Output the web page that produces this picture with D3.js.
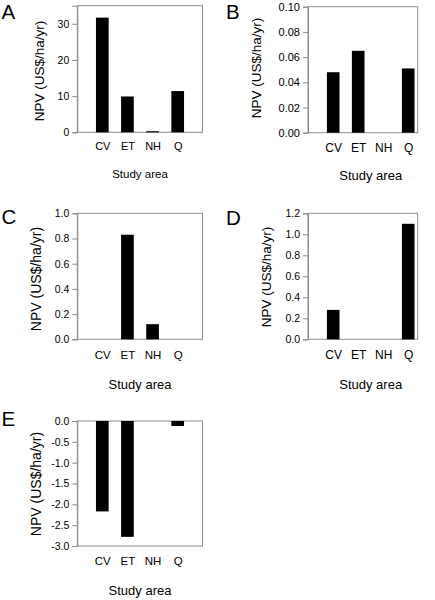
<!DOCTYPE html>
<html>
<head>
<meta charset="utf-8">
<script src="https://cdn.jsdelivr.net/npm/d3@7"></script>
<style>
  html, body { margin: 0; padding: 0; background: #fff; }
  svg { display: block; font-family: "Liberation Sans", Arial, sans-serif; }
</style>
</head>
<body>
<svg id="chart" width="435" height="600"></svg>
<script>
// ---------------- data ----------------
const categories = ["CV", "ET", "NH", "Q"];
const panelLetters = ["A", "B", "C", "D", "E"];
const valuesA = [31.7, 9.9, 0.3, 11.4];
const valuesB = [0.048, 0.065, 0, 0.051];
const valuesC = [0, 0.83, 0.12, 0];
const valuesD = [0.28, 0, 0, 1.1];
const valuesE = [-2.17, -2.78, 0, -0.12];
const domainA = [0, 35];
const domainB = [0, 0.1];
const domainC = [0, 1];
const domainD = [0, 1.2];
const domainE = [-3, 0];
const ticksA = [0, 10, 20, 30];
const ticksB = [0, 0.02, 0.04, 0.06, 0.08, 0.10];
const ticksC = [0, 0.2, 0.4, 0.6, 0.8, 1.0];
const ticksD = [0, 0.2, 0.4, 0.6, 0.8, 1.0, 1.2];
const ticksE = [0, -0.5, -1.0, -1.5, -2.0, -2.5, -3.0];
const tickLabelsA = ["0", "10", "20", "30"];
const tickLabelsB = ["0.00", "0.02", "0.04", "0.06", "0.08", "0.10"];
const tickLabelsC = ["0.0", "0.2", "0.4", "0.6", "0.8", "1.0"];
const tickLabelsD = ["0.0", "0.2", "0.4", "0.6", "0.8", "1.0", "1.2"];
const tickLabelsE = ["0.0", "-0.5", "-1.0", "-1.5", "-2.0", "-2.5", "-3.0"];
const yTitle = "NPV (US$/ha/yr)";
const xTitle = "Study area";

// ---------------- layout ----------------
const layoutLeft  = { x0: 77.3, x1: 202.5, c0: 102.3, c1: 177.7, letterX: 1.5 };
const layoutRight = { x0: 308, x1: 417.7, c0: 333.2, c1: 408.2, letterX: 226 };
const panels = [
  { letter: panelLetters[0], values: valuesA, domain: domainA, ticks: ticksA, labels: tickLabelsA, h: layoutLeft,
    yTop: 5.7, yBot: 132.3, catBase: 150, studyBase: 178.3, titleX: 44, titleY: 71, letterY: 18.5,
    fTick: 10.5, fCat: 11, fStudy: 11.5, fTitle: 13.5 },
  { letter: panelLetters[1], values: valuesB, domain: domainB, ticks: ticksB, labels: tickLabelsB, h: layoutRight,
    yTop: 6.7, yBot: 132.7, catBase: 151.7, studyBase: 180, titleX: 261, titleY: 68, letterY: 18.5,
    fTick: 11, fCat: 12, fStudy: 13, fTitle: 13.5 },
  { letter: panelLetters[2], values: valuesC, domain: domainC, ticks: ticksC, labels: tickLabelsC, h: layoutLeft,
    yTop: 213.3, yBot: 339.3, catBase: 358.5, studyBase: 388.5, titleX: 41, titleY: 279, letterY: 223.5,
    fTick: 10.5, fCat: 11.5, fStudy: 13, fTitle: 14 },
  { letter: panelLetters[3], values: valuesD, domain: domainD, ticks: ticksD, labels: tickLabelsD, h: layoutRight,
    yTop: 213.3, yBot: 339.3, catBase: 359, studyBase: 389, titleX: 271, titleY: 277, letterY: 225,
    fTick: 10.5, fCat: 12, fStudy: 13, fTitle: 13.5 },
  { letter: panelLetters[4], values: valuesE, domain: domainE, ticks: ticksE, labels: tickLabelsE, h: layoutLeft,
    yTop: 421, yBot: 546, catBase: 565, studyBase: 595, titleX: 41, titleY: 484, letterY: 425.5,
    fTick: 10.5, fCat: 11.5, fStudy: 13, fTitle: 14 }
];

const svg = d3.select("#chart");
const axisColor = "#8c8c8c";

panels.forEach(p => {
  const g = svg.append("g");
  const x = d3.scalePoint().domain(categories).range([p.h.c0, p.h.c1]);
  const y = d3.scaleLinear().domain(p.domain).range([p.yBot, p.yTop]);
  const barW = x.step() * 0.505;

  // frame
  g.append("rect")
    .attr("x", p.h.x0).attr("y", p.yTop)
    .attr("width", p.h.x1 - p.h.x0).attr("height", p.yBot - p.yTop)
    .attr("fill", "none").attr("stroke", axisColor).attr("stroke-width", 1);

  // bars
  const data = categories.map((c, i) => ({ c, v: p.values[i] })).filter(d => d.v !== 0);
  g.selectAll("rect.bar").data(data).enter().append("rect")
    .attr("class", "bar")
    .attr("x", d => x(d.c) - barW / 2)
    .attr("width", barW)
    .attr("y", d => Math.min(y(d.v), y(0)))
    .attr("height", d => Math.max(Math.abs(y(d.v) - y(0)), 0.8))
    .attr("fill", "#000");

  // y axis
  const yAxis = d3.axisLeft(y).tickValues(p.ticks)
    .tickFormat((d, i) => p.labels[i]).tickSize(5).tickPadding(3);
  const ya = g.append("g").attr("transform", `translate(${p.h.x0},0)`).call(yAxis);
  ya.select(".domain").attr("stroke", axisColor);
  ya.selectAll(".tick line").attr("stroke", axisColor);
  ya.selectAll(".tick text").attr("fill", "#000")
    .style("font-size", p.fTick + "px").style("font-family", "Liberation Sans, Arial, sans-serif");

  // x category labels
  const xAxis = d3.axisBottom(x).tickSize(0).tickPadding(0);
  const xa = g.append("g").attr("transform", `translate(0,${p.catBase})`).call(xAxis);
  xa.select(".domain").remove();
  xa.selectAll(".tick text").attr("dy", 0).attr("y", 0).attr("fill", "#000")
    .style("font-size", p.fCat + "px").style("font-family", "Liberation Sans, Arial, sans-serif");

  // x title
  g.append("text")
    .attr("x", (p.h.c0 + p.h.c1) / 2).attr("y", p.studyBase)
    .attr("text-anchor", "middle").style("font-size", p.fStudy + "px")
    .text(xTitle);

  // y title
  g.append("text")
    .attr("transform", `translate(${p.titleX},${p.titleY}) rotate(-90)`)
    .attr("text-anchor", "middle").style("font-size", p.fTitle + "px")
    .text(yTitle);

  // panel letter
  g.append("text")
    .attr("x", p.h.letterX).attr("y", p.letterY)
    .style("font-size", "20.5px")
    .text(p.letter);
});
</script>
</body>
</html>
